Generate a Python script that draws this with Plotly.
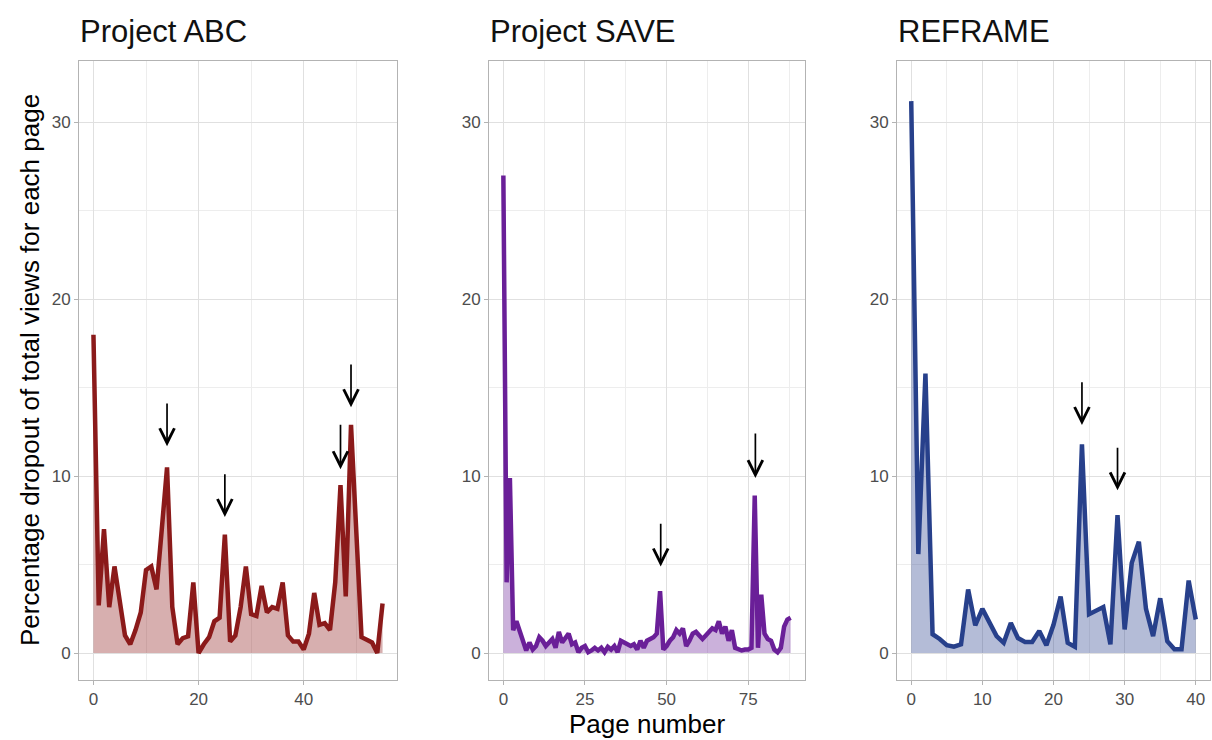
import plotly.graph_objects as go

# ---------------- data ----------------
panel_titles = ["Project ABC", "Project SAVE", "REFRAME"]

abc_y = [18.0, 2.7, 7.0, 2.6, 4.9, 3.1, 1.0, 0.5, 1.3, 2.3,
         4.7, 4.9, 3.6, 7.0, 10.5, 2.6, 0.5, 0.85, 0.95, 4.0,
         0.0, 0.5, 0.9, 1.8, 2.0, 6.7, 0.65, 1.0, 2.6, 4.9,
         2.2, 2.1, 3.8, 2.3, 2.6, 2.5, 4.0, 1.0, 0.65, 0.65,
         0.2, 1.1, 3.4, 1.6, 1.7, 1.3, 4.0, 9.5, 3.2, 12.9,
         7.0, 0.9, 0.75, 0.6, 0.0, 2.8]
abc_x = list(range(len(abc_y)))

save_y = [27.0, 4.0, 9.9, 1.3, 1.8, 1.3, 0.8, 0.15, 0.6, 0.2,
          0.4, 0.9, 0.7, 0.4, 0.6, 0.8, 0.3, 1.2, 0.6, 0.9,
          1.1, 0.5, 0.6, 0.05, 0.3, 0.4, 0.05, 0.15, 0.3, 0.15,
          0.3, 0.05, 0.35, 0.2, 0.4, 0.05, 0.7, 0.6, 0.5, 0.4,
          0.5, 0.2, 0.7, 0.3, 0.7, 0.8, 0.9, 1.1, 3.5, 0.2,
          0.4, 0.7, 0.9, 1.3, 1.1, 1.4, 0.4, 0.7, 1.1, 1.2,
          1.0, 0.8, 1.0, 1.2, 1.4, 1.3, 1.8, 1.1, 1.5, 0.7,
          1.3, 0.3, 0.2, 0.15, 0.2, 0.2, 0.3, 8.9, 0.3, 3.3,
          1.1, 0.8, 0.7, 0.2, 0.05, 0.3, 1.5, 1.9, 2.0]
save_x = list(range(len(save_y)))

reframe_y = [31.2, 5.6, 15.8, 1.07, 0.8, 0.45, 0.36, 0.5, 3.6, 1.57,
             2.5, 1.75, 0.96, 0.58, 1.7, 0.85, 0.63, 0.63, 1.25, 0.45,
             1.6, 3.2, 0.58, 0.36, 11.8, 2.2, 2.4, 2.6, 0.5, 7.8,
             1.34, 5.1, 6.3, 2.5, 0.96, 3.1, 0.67, 0.22, 0.22, 4.1,
             1.9]
reframe_x = list(range(len(reframe_y)))

# arrows: x position, tail (top) value, tip value
abc_arrow_x = [14, 25, 47, 49]
abc_arrow_tail = [14.2, 10.2, 13.0, 16.4]
abc_arrow_tip = [11.7, 7.7, 10.4, 13.9]

save_arrow_x = [48.2, 77.2]
save_arrow_tail = [7.4, 12.5]
save_arrow_tip = [4.9, 9.9]

reframe_arrow_x = [24, 29]
reframe_arrow_tail = [15.4, 11.7]
reframe_arrow_tip = [12.9, 9.2]

y_ticks = [0, 10, 20, 30]
abc_xticks = [0, 20, 40]
save_xticks = [0, 25, 50, 75]
reframe_xticks = [0, 10, 20, 30, 40]

# ---------------- styling ----------------
W, H = 1212, 740
line_colors = ["#8B1A1A", "#6A1F98", "#27408B"]
fill_colors = ["rgba(139,26,26,0.35)", "rgba(106,31,152,0.35)", "rgba(39,64,139,0.35)"]
panels_px = [(79, 397), (489, 805), (897, 1210)]
x_ranges = [[-2.75, 57.75], [-4.4, 92.4], [-2.0, 42.0]]
x_minor_dtick = [10, 12.5, 5]
x_ticks_all = [abc_xticks, save_xticks, reframe_xticks]
top_px, bot_px = 61, 680
y_range = [-1.52, 33.47]

xs = [abc_x, save_x, reframe_x]
ys = [abc_y, save_y, reframe_y]
arrows = [(abc_arrow_x, abc_arrow_tail, abc_arrow_tip),
          (save_arrow_x, save_arrow_tail, save_arrow_tip),
          (reframe_arrow_x, reframe_arrow_tail, reframe_arrow_tip)]

FONT = "Liberation Sans, Arial, sans-serif"
fig = go.Figure()
annotations = []

for i in range(3):
    xa = "x" if i == 0 else f"x{i+1}"
    ya = "y" if i == 0 else f"y{i+1}"
    fig.add_trace(go.Scatter(
        x=xs[i], y=ys[i], mode="lines", xaxis=xa, yaxis=ya,
        line=dict(color=line_colors[i], width=4.5),
        fill="tozeroy", fillcolor=fill_colors[i],
        showlegend=False, hoverinfo="skip"))

    x0, x1 = panels_px[i]
    axis_common = dict(
        showline=True, mirror=True, linecolor="#B3B3B3", linewidth=1,
        showgrid=True, gridcolor="#E0E0E0", gridwidth=1,
        ticks="outside", ticklen=4, tickcolor="#B3B3B3", tickwidth=1,
        tickfont=dict(family=FONT, size=17, color="#4D4D4D"),
        zeroline=False, fixedrange=True,
    )
    xkey = "xaxis" if i == 0 else f"xaxis{i+1}"
    ykey = "yaxis" if i == 0 else f"yaxis{i+1}"
    fig.layout[xkey] = dict(
        domain=[x0 / W, x1 / W], range=x_ranges[i], anchor=ya,
        tickmode="array", tickvals=x_ticks_all[i],
        minor=dict(dtick=x_minor_dtick[i], tick0=0, showgrid=True,
                   gridcolor="#EDEDED", gridwidth=1, ticks=""),
        **axis_common)
    fig.layout[ykey] = dict(
        domain=[1 - bot_px / H, 1 - top_px / H], range=y_range, anchor=xa,
        tickmode="array", tickvals=y_ticks,
        minor=dict(dtick=5, tick0=0, showgrid=True,
                   gridcolor="#EDEDED", gridwidth=1, ticks=""),
        **axis_common)

    # panel title
    annotations.append(dict(
        text=panel_titles[i], xref="paper", yref="paper",
        x=(x0 - 1) / W, y=1 - 31 / H, xanchor="left", yanchor="middle",
        showarrow=False, font=dict(family=FONT, size=31, color="#111111")))

    # arrows
    ax_list, tail_list, tip_list = arrows[i]
    for ax_, tail, tip in zip(ax_list, tail_list, tip_list):
        annotations.append(dict(
            x=ax_, y=tip, ax=ax_, ay=tail, xref=xa, yref=ya,
            axref=xa, ayref=ya, text="", showarrow=True,
            arrowhead=5, arrowsize=1.7, arrowwidth=1.7, arrowcolor="black",
            standoff=0, startstandoff=0))

# axis titles
annotations.append(dict(
    text="Page number", xref="paper", yref="paper",
    x=647 / W, y=1 - 724 / H, xanchor="center", yanchor="middle",
    showarrow=False, font=dict(family=FONT, size=26, color="#000000")))
annotations.append(dict(
    text="Percentage dropout of total views for each page", xref="paper", yref="paper",
    x=30 / W, y=1 - 370 / H, xanchor="center", yanchor="middle", textangle=-90,
    showarrow=False, font=dict(family=FONT, size=26, color="#000000")))

fig.update_layout(
    width=W, height=H, margin=dict(l=0, r=0, t=0, b=0),
    paper_bgcolor="white", plot_bgcolor="white",
    annotations=annotations, showlegend=False,
)

fig.write_html(
    "out.html",
    config={"displayModeBar": False},
    post_script="document.body.style.margin='0px';document.body.style.overflow='hidden';",
)
